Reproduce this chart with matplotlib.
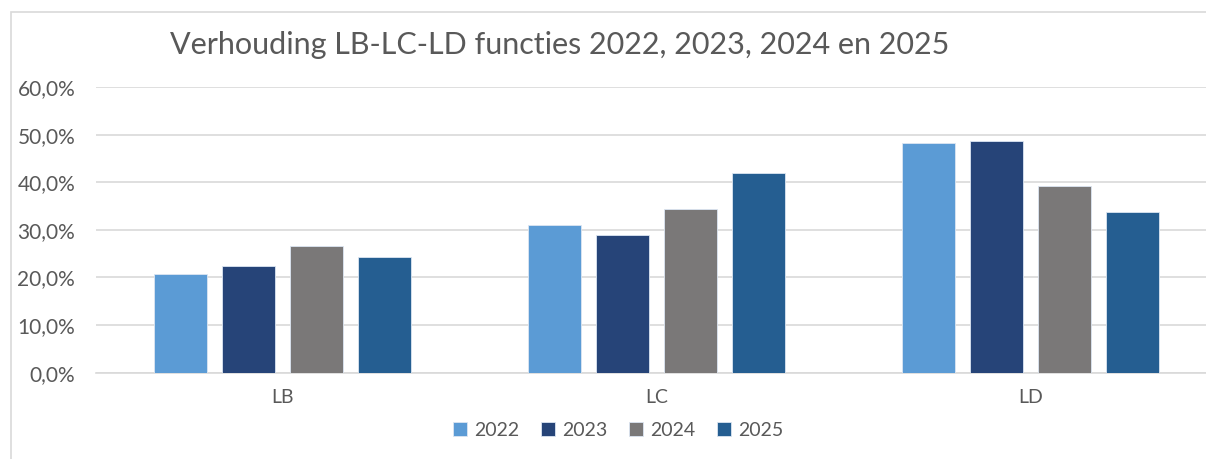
import matplotlib
matplotlib.use("Agg")
import matplotlib.pyplot as plt
import numpy as np
from matplotlib.patches import Rectangle
from matplotlib.ticker import FuncFormatter

categories = ["LB", "LC", "LD"]
years = ["2022", "2023", "2024", "2025"]
v2022 = [20.7, 31.0, 48.3]
v2023 = [22.4, 29.0, 48.7]
v2024 = [26.6, 34.3, 39.2]
v2025 = [24.3, 42.0, 33.8]
series = [v2022, v2023, v2024, v2025]
colors = ["#5B9BD5", "#264478", "#7A7878", "#255E91"]

plt.rcParams['font.family'] = ['Lato', 'DejaVu Sans']
W, H = 1206, 459
fig = plt.figure(figsize=(W / 100, H / 100), dpi=100)

# chart frame
fig.patches.append(Rectangle((11 / W, -0.1), 1.2, (H - 12) / H + 0.1,
                             transform=fig.transFigure, fill=False,
                             edgecolor="#D9D9D9", linewidth=1.2))

left, right = 96, 1217
bottom_px, top_px = 372.7, 87
ax = fig.add_axes([left / W, (H - bottom_px) / H, (right - left) / W,
                   (bottom_px - top_px) / H])

x = np.arange(len(categories))
step = 0.182
width = 0.142
for i, (vals, c, yr) in enumerate(zip(series, colors, years)):
    ax.bar(x + (i - 1.5) * step, vals, width, color=c, label=yr,
           edgecolor="#DCE6F2", linewidth=0.6, zorder=3)

ax.set_xlim(-0.5, 2.5)
ax.set_ylim(0, 60)
ax.set_yticks(np.arange(0, 61, 10))
ax.yaxis.set_major_formatter(FuncFormatter(lambda v, p: f"{v:.1f}%".replace(".", ",")))
ax.grid(axis="y", color="#D9D9D9", linewidth=1.2, zorder=0)
for s in ["top", "right", "left"]:
    ax.spines[s].set_visible(False)
ax.spines["bottom"].set_color("#D9D9D9")
ax.spines["bottom"].set_linewidth(1.2)
ax.set_xticks(x)
ax.set_xticklabels(categories)
ax.tick_params(axis="both", length=0, colors="#595959", labelsize=14)
ax.tick_params(axis="y", labelsize=15, pad=15)
ax.tick_params(axis="x", pad=12)

fig.text(560 / W, 1 - 45 / H, "Verhouding LB-LC-LD functies 2022, 2023, 2024 en 2025",
         ha="center", va="center", fontsize=22, color="#595959")

leg = fig.legend(loc="center", bbox_to_anchor=(618 / W, 1 - 430 / H), ncol=4,
                 frameon=False, fontsize=14, handlelength=0.75, handleheight=0.75,
                 handletextpad=0.35, columnspacing=1.1, labelcolor="#595959")

fig.savefig("out.png", dpi=100)
